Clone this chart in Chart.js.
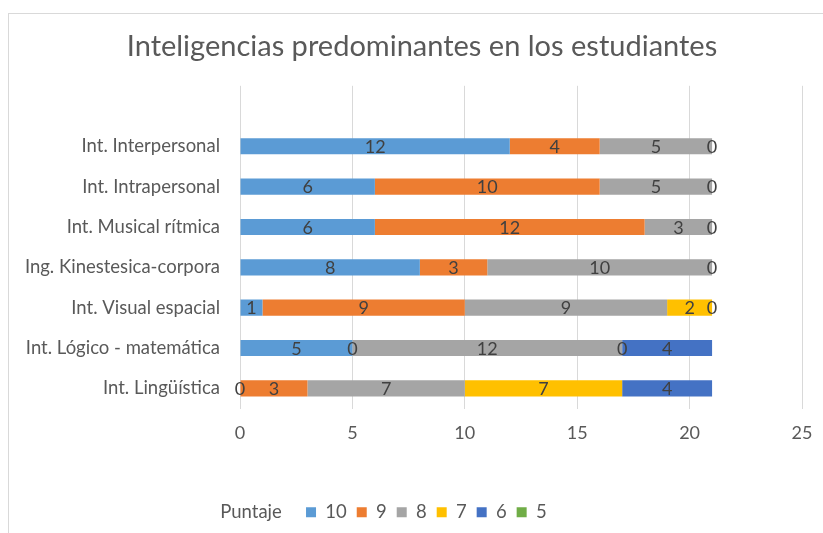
<!DOCTYPE html>
<html lang="es">
<head>
<meta charset="utf-8">
<title>Inteligencias predominantes en los estudiantes</title>
<script src="https://cdn.jsdelivr.net/npm/chart.js@4/dist/chart.umd.min.js"></script>
<style>
  html, body { margin: 0; padding: 0; background: #fff; }
  canvas { display: block; }
</style>
</head>
<body>
<canvas id="barChart" width="823" height="533"></canvas>
<script>
/* ── Data ────────────────────────────────────────────────────────────────── */
const TITLE = 'Inteligencias predominantes en los estudiantes';
const LEGEND_TITLE = 'Puntaje';

// first row is the empty band Excel leaves at the top of the plot
const CATEGORIES = [
  '',
  'Int. Interpersonal',
  'Int. Intrapersonal',
  'Int. Musical rítmica',
  'Ing. Kinestesica-corpora',
  'Int. Visual espacial',
  'Int. Lógico - matemática',
  'Int. Lingüística'
];

const SERIES_NAMES = ['10', '9', '8', '7', '6', '5'];
const SCORE_10 = [null, 12,  6,  6,  8, 1,  5, 0];
const SCORE_9  = [null,  4, 10, 12,  3, 9,  0, 3];
const SCORE_8  = [null,  5,  5,  3, 10, 9, 12, 7];
const SCORE_7  = [null,  0,  0,  0,  0, 2,  0, 7];
const SCORE_6  = [null, null, null, null, null, 0, 4, 4];
const SCORE_5  = [null, null, null, null, null, null, null, null];

const X_MIN = 0, X_MAX = 25, X_STEP = 5;

/* ── Styles ──────────────────────────────────────────────────────────────── */
const COLORS    = ['#5B9BD5', '#ED7D31', '#A5A5A5', '#FFC000', '#4472C4', '#70AD47'];
const TEXT      = '#595959';
const LABEL_TXT = '#404040';
const GRID      = '#D9D9D9';
const FONT      = 'Lato';

Chart.defaults.font.family = FONT;
Chart.defaults.color = TEXT;

/* ── Plugins ─────────────────────────────────────────────────────────────── */

// light frame round the chart, like the Excel chart area border
const framePlugin = {
  id: 'frame',
  beforeDraw(chart) {
    const { ctx } = chart;
    ctx.save();
    ctx.strokeStyle = GRID;
    ctx.lineWidth = 1;
    ctx.strokeRect(8.5, 13.5, chart.width + 20, chart.height + 20);
    ctx.restore();
  }
};

// value labels centred in each segment (zeros sit at the stack edge)
const valueLabels = {
  id: 'valueLabels',
  afterDatasetsDraw(chart) {
    const { ctx } = chart;
    ctx.save();
    ctx.font = `18px ${FONT}`;
    ctx.fillStyle = LABEL_TXT;
    ctx.textAlign = 'center';
    ctx.textBaseline = 'middle';
    chart.data.datasets.forEach((ds, di) => {
      const meta = chart.getDatasetMeta(di);
      if (meta.hidden) return;
      meta.data.forEach((bar, i) => {
        const v = ds.data[i];
        if (v === null || v === undefined) return;
        const { x, base, y } = bar.getProps(['x', 'base', 'y'], true);
        ctx.fillText(String(v), (x + base) / 2, y + 1);
      });
    });
    ctx.restore();
  }
};

// move title and legend row to where Excel has them
const blockPlace = {
  id: 'blockPlace',
  afterLayout(chart) {
    const tb = chart.titleBlock;
    if (tb) {
      tb.left += 21;
      tb.right += 21;
    }
    const lg = chart.legend;
    if (!lg) return;
    const pad = lg.options.labels.padding;
    const w = lg.right - lg.left;
    lg.left = 201 - pad;
    lg.right = lg.left + w;
    const h = lg.bottom - lg.top;
    lg.top = 512 - pad - 9;
    lg.bottom = lg.top + h;
  }
};

/* ── Chart ───────────────────────────────────────────────────────────────── */
const seriesData = [SCORE_10, SCORE_9, SCORE_8, SCORE_7, SCORE_6, SCORE_5];

const ctx = document.getElementById('barChart').getContext('2d');
const chart = new Chart(ctx, {
  type: 'bar',
  data: {
    labels: CATEGORIES,
    datasets: SERIES_NAMES.map((name, i) => ({
      label: name,
      data: seriesData[i],
      backgroundColor: COLORS[i],
      borderWidth: 0,
      categoryPercentage: 1,
      barPercentage: 0.4
    }))
  },
  options: {
    indexAxis: 'y',
    responsive: false,
    animation: false,
    layout: { padding: { left: 0, right: 21, top: 0, bottom: 0 } },
    plugins: {
      title: {
        display: true,
        text: TITLE,
        color: TEXT,
        font: { size: 29, weight: 'normal' },
        padding: { top: 29, bottom: 22 }
      },
      legend: {
        position: 'bottom',
        align: 'start',
        labels: {
          boxWidth: 10,
          boxHeight: 10,
          padding: 10,
          color: TEXT,
          font: { size: 18.5 },
          generateLabels: c => {
            const items = Chart.defaults.plugins.legend.labels.generateLabels(c);
            items.forEach(it => { it.fontColor = TEXT; });
            return [{
              text: LEGEND_TITLE + '   ',
              fillStyle: 'rgba(0,0,0,0)',
              strokeStyle: 'rgba(0,0,0,0)',
              fontColor: TEXT,
              lineWidth: 0,
              hidden: false,
              datasetIndex: -1
            }, ...items];
          }
        }
      },
      tooltip: { enabled: false }
    },
    scales: {
      x: {
        stacked: true,
        min: X_MIN,
        max: X_MAX,
        ticks: { stepSize: X_STEP, color: TEXT, font: { size: 18 }, padding: 14 },
        grid: { color: GRID, lineWidth: 1, drawTicks: false },
        border: { display: false },
        afterFit: s => { s.height = 86; s.paddingRight = 0; }
      },
      y: {
        stacked: true,
        ticks: { color: TEXT, font: { size: 18.5 }, padding: 20 },
        grid: { display: false, drawTicks: false },
        border: { display: false },
        afterFit: s => { s.width = 240; }
      }
    }
  },
  plugins: [framePlugin, valueLabels, blockPlace]
});
</script>
</body>
</html>
